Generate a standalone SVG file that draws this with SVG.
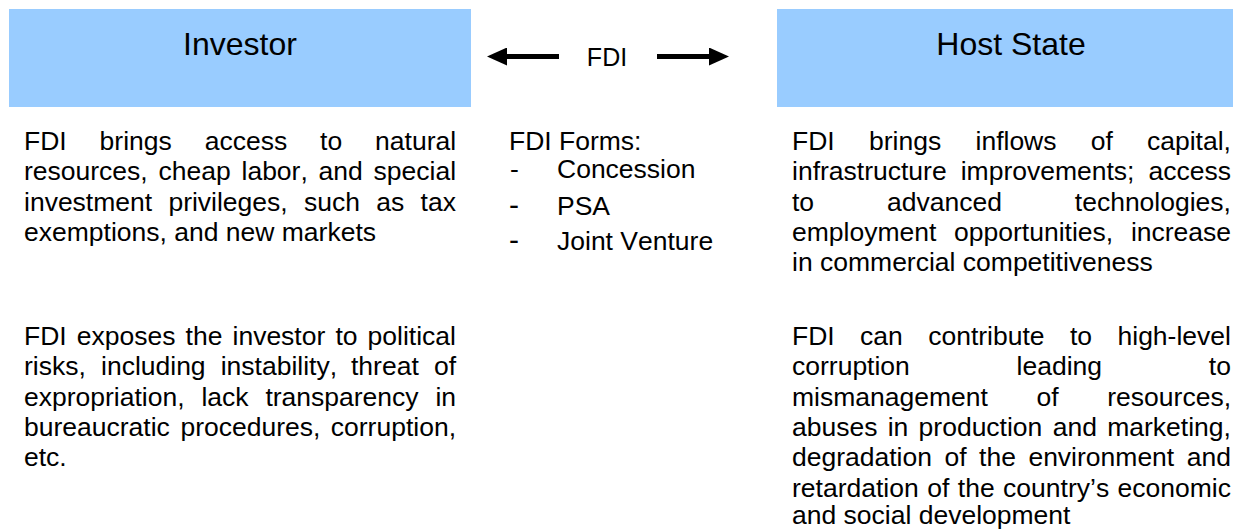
<svg xmlns="http://www.w3.org/2000/svg" width="1234" height="530" viewBox="0 0 1234 530">
<style>
  text{font-family:"Liberation Sans",Arial,sans-serif;fill:#000;font-kerning:none}
  .hdr{fill:#99CCFF}
  .title{font-size:32px;text-anchor:middle}
  .body{font-size:26.5px}
  .dash2{font-size:30px}
  .lbl{font-size:25px;text-anchor:middle}
  .arr{stroke:#000;stroke-width:5;fill:none}
</style>
<defs>
  <marker id="ah" markerUnits="userSpaceOnUse" markerWidth="20" markerHeight="18" viewBox="0 0 20 18" refX="1" refY="9" orient="auto">
    <polygon points="0,0 20,9 0,18" fill="#000"/>
  </marker>
</defs>
<rect width="1234" height="530" fill="#fff"/>

<g id="node-investor">
  <rect class="hdr" x="9" y="9" width="462" height="98"/>
  <text class="title" x="240" y="55">Investor</text>
</g>

<g id="node-host">
  <rect class="hdr" x="777" y="9" width="456" height="98"/>
  <text class="title" x="1011" y="55">Host State</text>
</g>

<g id="connectors">
  <path class="arr" d="M559,56.5 L506,56.5" marker-end="url(#ah)"/>
  <path class="arr" d="M657,56.5 L710,56.5" marker-end="url(#ah)"/>
  <text class="lbl" x="607" y="66">FDI</text>
</g>

<g id="investor-benefits">
  <text class="body" y="150"><tspan x="24">FDI</tspan><tspan x="99.6">brings</tspan><tspan x="204.7">access</tspan><tspan x="320.1">to</tspan><tspan x="375.1">natural</tspan></text>
  <text class="body" y="180.3"><tspan x="24">resources,</tspan><tspan x="158.5">cheap</tspan><tspan x="241.5">labor,</tspan><tspan x="318.6">and</tspan><tspan x="373.6">special</tspan></text>
  <text class="body" y="210.6"><tspan x="24">investment</tspan><tspan x="168.4">privileges,</tspan><tspan x="304">such</tspan><tspan x="376.3">as</tspan><tspan x="420.6">tax</tspan></text>
  <text class="body" x="24" y="241">exemptions, and new markets</text>
</g>

<g id="investor-risks">
  <text class="body" y="345"><tspan x="24">FDI</tspan><tspan x="76.8">exposes</tspan><tspan x="185.6">the</tspan><tspan x="232.5">investor</tspan><tspan x="335.4">to</tspan><tspan x="367.6">political</tspan></text>
  <text class="body" y="375.3"><tspan x="24">risks,</tspan><tspan x="101">including</tspan><tspan x="220.7">instability,</tspan><tspan x="351">threat</tspan><tspan x="433.9">of</tspan></text>
  <text class="body" y="405.6"><tspan x="24">expropriation,</tspan><tspan x="201.4">lack</tspan><tspan x="265.4">transparency</tspan><tspan x="435.4">in</tspan></text>
  <text class="body" y="436"><tspan x="24">bureaucratic</tspan><tspan x="180.4">procedures,</tspan><tspan x="330.8">corruption,</tspan></text>
  <text class="body" x="24" y="466.3">etc.</text>
</g>

<g id="fdi-forms">
  <text class="body" x="509" y="149.5">FDI Forms:</text>
  <text class="body" x="510" y="178">-</text>
  <text class="body" x="557" y="178">Concession</text>
  <text class="body dash2" x="509" y="214.5">-</text>
  <text class="body" x="557" y="214.5">PSA</text>
  <text class="body dash2" x="509" y="250">-</text>
  <text class="body" x="557" y="250">Joint Venture</text>
</g>

<g id="host-benefits">
  <text class="body" y="150"><tspan x="792">FDI</tspan><tspan x="869">brings</tspan><tspan x="975.5">inflows</tspan><tspan x="1090.8">of</tspan><tspan x="1147">capital,</tspan></text>
  <text class="body" y="180.3"><tspan x="792">infrastructure</tspan><tspan x="960.7">improvements;</tspan><tspan x="1148.5">access</tspan></text>
  <text class="body" y="210.6"><tspan x="792">to</tspan><tspan x="887">advanced</tspan><tspan x="1074.8">technologies,</tspan></text>
  <text class="body" y="241"><tspan x="792">employment</tspan><tspan x="954.1">opportunities,</tspan><tspan x="1130.9">increase</tspan></text>
  <text class="body" x="792" y="271.3">in commercial competitiveness</text>
</g>

<g id="host-risks">
  <text class="body" y="345"><tspan x="792">FDI</tspan><tspan x="860.1">can</tspan><tspan x="928.2">contribute</tspan><tspan x="1070">to</tspan><tspan x="1117.5">high-level</tspan></text>
  <text class="body" y="375.3"><tspan x="792">corruption</tspan><tspan x="1016.6">leading</tspan><tspan x="1208.8">to</tspan></text>
  <text class="body" y="405.6"><tspan x="792">mismanagement</tspan><tspan x="1036.5">of</tspan><tspan x="1107.3">resources,</tspan></text>
  <text class="body" y="436"><tspan x="792">abuses</tspan><tspan x="887.7">in</tspan><tspan x="918.6">production</tspan><tspan x="1052.7">and</tspan><tspan x="1107.2">marketing,</tspan></text>
  <text class="body" y="466.3"><tspan x="792">degradation</tspan><tspan x="944.5">of</tspan><tspan x="979.1">the</tspan><tspan x="1028.4">environment</tspan><tspan x="1186.7">and</tspan></text>
  <text class="body" y="496.6"><tspan x="792">retardation</tspan><tspan x="927.2">of</tspan><tspan x="957.8">the</tspan><tspan x="1003.1">country’s</tspan><tspan x="1117.6">economic</tspan></text>
  <text class="body" x="792" y="524">and social development</text>
</g>
</svg>
